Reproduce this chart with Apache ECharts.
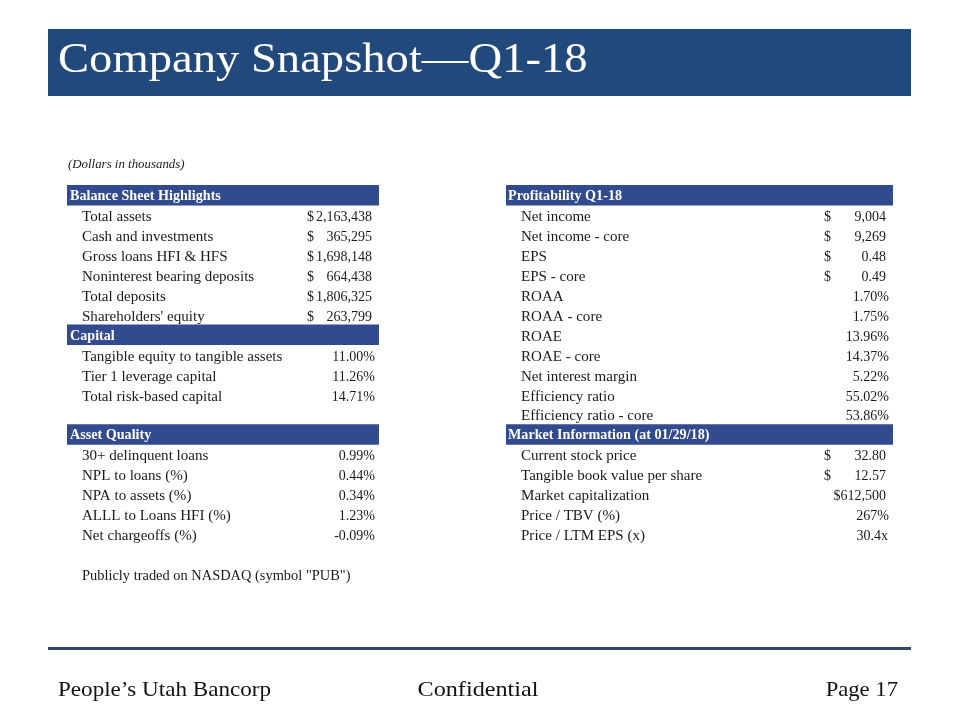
<!DOCTYPE html>
<html><head><meta charset="utf-8">
<script src="https://cdn.jsdelivr.net/npm/echarts@6/dist/echarts.min.js"></script>
<style>html,body{margin:0;padding:0;background:#fff}#c{width:960px;height:720px}</style>
</head><body><div id="c"></div>
<script>
// ---- data ----
const sectionTitles = ['Balance Sheet Highlights', 'Capital', 'Asset Quality', 'Profitability Q1-18', 'Market Information (at 01/29/18)'];
const balanceLabels = ['Total assets', 'Cash and investments', 'Gross loans HFI & HFS', 'Noninterest bearing deposits', 'Total deposits', "Shareholders' equity"];
const balanceValues = [2163438, 365295, 1698148, 664438, 1806325, 263799];
const capitalLabels = ['Tangible equity to tangible assets', 'Tier 1 leverage capital', 'Total risk-based capital'];
const capitalValues = [11.00, 11.26, 14.71];
const assetLabels = ['30+ delinquent loans', 'NPL to loans (%)', 'NPA to assets (%)', 'ALLL to Loans HFI (%)', 'Net chargeoffs (%)'];
const assetValues = [0.99, 0.44, 0.34, 1.23, -0.09];
const profitLabels = ['Net income', 'Net income - core', 'EPS', 'EPS - core', 'ROAA', 'ROAA - core', 'ROAE', 'ROAE - core', 'Net interest margin', 'Efficiency ratio', 'Efficiency ratio - core'];
const profitValues = [9004, 9269, 0.48, 0.49, 1.70, 1.75, 13.96, 14.37, 5.22, 55.02, 53.86];
const profitFormats = ['$0', '$0', '$2', '$2', '%', '%', '%', '%', '%', '%', '%'];
const marketLabels = ['Current stock price', 'Tangible book value per share', 'Market capitalization', 'Price / TBV (%)', 'Price / LTM EPS (x)'];
const marketValues = [32.80, 12.57, 612500, 267, 30.4];
const marketFormats = ['$2', '$2', '$0tight', '%0', 'x'];
const footnote = 'Publicly traded on NASDAQ (symbol "PUB")';
const unitsNote = '(Dollars in thousands)';
const titleText = 'Company Snapshot\u2014Q1-18';
const footerTexts = ['People\u2019s Utah Bancorp', 'Confidential', 'Page 17'];

// ---- styles / layout ----
const SERIF = '"Liberation Serif", "DejaVu Serif", serif';
const TXT = '#1a1a1a';
const HEAD = '#324A8E';
const BANNER = '#21497C';
const COLS = {
  L: { x0: 67, x1: 379, head: 70, label: 82, dollar: 307, num: 372, pct: 375 },
  R: { x0: 506, x1: 893, head: 508, label: 521, dollar: 824, num: 886, pct: 889 }
};
const NROWS = 20;
const TEXT_DY = 2.5;
const BODY_FONT = '14px ' + SERIF;
const LABEL_SX = 1.075;
const VALUE_SX = 1.0;

function commas(n) {
  const s = Math.round(Math.abs(n)).toString();
  return (n < 0 ? '-' : '') + s.replace(/\B(?=(\d{3})+(?!\d))/g, ',');
}

// ---- build cells ----
const cells = [];
function addSection(side, startRow, title, labels, values, formats) {
  cells.push({ side, row: startRow, type: 'head', text: title });
  labels.forEach((l, i) => cells.push({ side, row: startRow + 1 + i, type: 'row', text: l, value: values[i], fmt: formats[i] }));
}
addSection('L', 0, sectionTitles[0], balanceLabels, balanceValues, balanceLabels.map(() => '$0'));
addSection('L', 7, sectionTitles[1], capitalLabels, capitalValues, capitalLabels.map(() => '%'));
addSection('L', 12, sectionTitles[2], assetLabels, assetValues, assetLabels.map(() => '%'));
cells.push({ side: 'L', row: 19, type: 'note', text: footnote });
addSection('R', 0, sectionTitles[3], profitLabels, profitValues, profitFormats);
addSection('R', 12, sectionTitles[4], marketLabels, marketValues, marketFormats);

function txt(x, y, s, align, extra, sx) {
  return {
    type: 'text',
    x: x, y: y + TEXT_DY,
    scaleX: sx,
    style: Object.assign({ x: 0, y: 0, text: s, align: align || 'left', verticalAlign: 'middle', fill: TXT, font: BODY_FONT }, extra || {})
  };
}

function renderItem(params, api) {
  const c = cells[params.dataIndex];
  const col = COLS[c.side];
  const y = api.coord([0, c.row])[1];
  const band = api.size([0, 1])[1];
  const children = [];
  if (c.type === 'head') {
    children.push({ type: 'rect', shape: { x: col.x0, y: y - band / 2, width: col.x1 - col.x0, height: band + 0.5 }, style: { fill: HEAD } });
    children.push(txt(col.head, y - 1, c.text, 'left', { fill: '#fff', font: 'bold 14px ' + SERIF }, 1.01));
  } else if (c.type === 'note') {
    children.push(txt(col.label, y, c.text, 'left', null, 1.03));
  } else {
    children.push(txt(col.label, y, c.text, 'left', null, LABEL_SX));
    const v = c.value, f = c.fmt;
    if (f === '$0' || f === '$2') {
      children.push(txt(col.dollar, y, '$', 'left', null, VALUE_SX));
      children.push(txt(col.num, y, f === '$0' ? commas(v) : v.toFixed(2), 'right', null, VALUE_SX));
    } else if (f === '$0tight') {
      children.push(txt(col.num, y, '$' + commas(v), 'right', null, VALUE_SX));
    } else if (f === '%') {
      children.push(txt(col.pct, y, v.toFixed(2) + '%', 'right', null, VALUE_SX));
    } else if (f === '%0') {
      children.push(txt(col.pct, y, v.toFixed(0) + '%', 'right', null, VALUE_SX));
    } else if (f === 'x') {
      children.push(txt(col.pct - 1, y, v.toFixed(1) + 'x', 'right', null, VALUE_SX));
    }
  }
  return { type: 'group', children };
}

const chart = echarts.init(document.getElementById('c'), null, { renderer: 'canvas' });
chart.setOption({
  backgroundColor: '#fff',
  animation: false,
  grid: { left: 0, right: 0, top: 185, height: 19.94 * NROWS },
  xAxis: { type: 'value', min: 0, max: 960, show: false },
  yAxis: { type: 'category', inverse: true, data: Array.from({ length: NROWS }, (_, i) => 'r' + i), show: false },
  graphic: [
    { type: 'rect', shape: { x: 48, y: 29, width: 863, height: 67 }, style: { fill: BANNER } },
    { type: 'text', x: 58, y: 61, scaleX: 1.084, style: { x: 0, y: 0, text: titleText, fill: '#fff', font: '43px ' + SERIF, verticalAlign: 'middle' } },
    { type: 'text', x: 68, y: 165, scaleX: 1.03, style: { x: 0, y: 0, text: unitsNote, fill: TXT, font: 'italic 12.5px ' + SERIF, verticalAlign: 'middle' } },
    { type: 'rect', shape: { x: 48, y: 647, width: 863, height: 3 }, style: { fill: '#2C4A6E' } },
    { type: 'text', x: 58, y: 690, scaleX: 1.05, style: { x: 0, y: 0, text: footerTexts[0], fill: '#111', font: '22px ' + SERIF, verticalAlign: 'middle' } },
    { type: 'text', x: 478, y: 690, scaleX: 1.1, style: { x: 0, y: 0, text: footerTexts[1], fill: '#111', font: '22px ' + SERIF, verticalAlign: 'middle', align: 'center' } },
    { type: 'text', x: 898, y: 690, scaleX: 1.03, style: { x: 0, y: 0, text: footerTexts[2], fill: '#111', font: '22px ' + SERIF, verticalAlign: 'middle', align: 'right' } }
  ],
  series: [{
    type: 'custom',
    coordinateSystem: 'cartesian2d',
    renderItem,
    data: cells.map(c => [0, c.row]),
    silent: true
  }]
});
</script>
</body></html>
